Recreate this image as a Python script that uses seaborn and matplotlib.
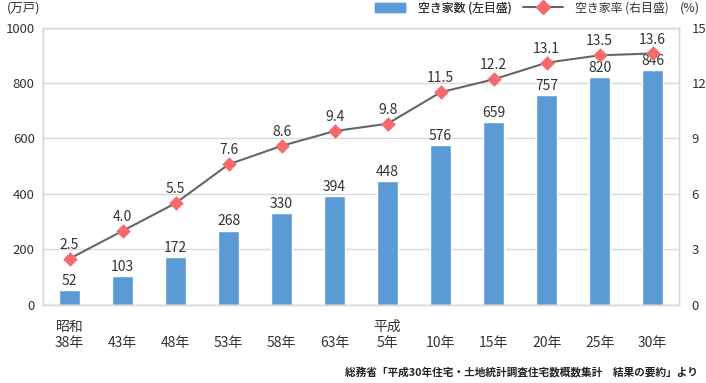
import matplotlib
matplotlib.use("Agg")
import matplotlib.pyplot as plt
import seaborn as sns
import numpy as np
import pandas as pd
from matplotlib.patches import Patch
from matplotlib.lines import Line2D

categories = ["昭和\n38年", "\n43年", "\n48年", "\n53年", "\n58年", "\n63年",
              "平成\n5年", "\n10年", "\n15年", "\n20年", "\n25年", "\n30年"]
vacant_counts = [52, 103, 172, 268, 330, 394, 448, 576, 659, 757, 820, 846]
vacant_rates = [2.5, 4.0, 5.5, 7.6, 8.6, 9.4, 9.8, 11.5, 12.2, 13.1, 13.5, 13.6]
left_ticks = [0, 200, 400, 600, 800, 1000]
right_ticks = [0, 3, 6, 9, 12, 15]

sns.set_theme(style="white")
plt.rcParams['font.family'] = ['Noto Sans CJK JP', 'DejaVu Sans']

TXT = "#333333"
GRID = "#D9D9D9"
BAR = "#5B9BD5"
LINE = "#666666"
MARK = "#F8696B"

df = pd.DataFrame({"cat": categories, "count": vacant_counts, "rate": vacant_rates,
                   "pos": np.arange(len(categories))})

fig = plt.figure(figsize=(7.06, 3.83), dpi=100)
ax = fig.add_axes([0.061, 0.204, 0.901, 0.724])

sns.barplot(data=df, x="cat", y="count", color=BAR, width=0.4, ax=ax,
            saturation=1, zorder=2)
ax.set_ylim(0, 1000)
ax.set_xlim(-0.5, len(categories) - 0.5)
ax.set_yticks(left_ticks)
ax.set_yticklabels([str(t) for t in left_ticks])
ax.yaxis.grid(True, color=GRID, linewidth=1)
ax.set_axisbelow(True)
ax.set_xlabel("")
ax.set_ylabel("")
ax.tick_params(axis="x", length=0, labelsize=10, colors=TXT, pad=11)
ax.tick_params(axis="y", length=0, labelsize=9.5, colors=TXT, pad=6)
for lab in ax.get_xticklabels():
    lab.set_linespacing(1.15)
for s in ax.spines.values():
    s.set_color(GRID)
    s.set_linewidth(1)

for p, v in zip(ax.patches, vacant_counts):
    ax.annotate(str(v), (p.get_x() + p.get_width() / 2, p.get_height()),
                xytext=(0, 1.5), textcoords="offset points", ha="center", va="bottom",
                fontsize=10, color=TXT)

ax2 = ax.twinx()
sns.lineplot(data=df, x="pos", y="rate", color=LINE, linewidth=1.5, ax=ax2, zorder=3)
sns.scatterplot(data=df, x="pos", y="rate", marker="D", s=55, color=MARK,
                edgecolor=MARK, linewidth=0, ax=ax2, zorder=4)
ax2.set_ylim(0, 15)
ax2.set_yticks(right_ticks)
ax2.set_yticklabels([str(t) for t in right_ticks])
ax2.set_xlabel("")
ax2.set_ylabel("")
ax2.tick_params(axis="y", length=0, labelsize=9.5, colors=TXT, pad=9)
for s in ax2.spines.values():
    s.set_color(GRID)
    s.set_linewidth(1)
for x, v in zip(df["pos"], vacant_rates):
    ax2.annotate(f"{v:.1f}", (x, v), xytext=(0, 5), textcoords="offset points",
                 ha="center", va="bottom", fontsize=10, color=TXT)

fig.text(0.010, 0.978, "(万戸)", fontsize=9, color=TXT, ha="left", va="center")
fig.text(0.992, 0.978, "(%)", fontsize=9, color=TXT, ha="right", va="center")

leg1 = fig.legend([Patch(facecolor=BAR, edgecolor=BAR)], ["空き家数 (左目盛)"],
                  loc="center left", bbox_to_anchor=(0.531, 0.979), frameon=False,
                  fontsize=8.6, labelcolor=TXT, handlelength=2.5, handleheight=0.85,
                  handletextpad=1.1, borderpad=0, borderaxespad=0)
fig.legend([Line2D([0], [0], color=LINE, lw=1.5, marker="D", markersize=7,
                   markerfacecolor=MARK, markeredgecolor=MARK)],
           ["空き家率 (右目盛)"],
           loc="center left", bbox_to_anchor=(0.741, 0.979), frameon=False,
           fontsize=8.6, labelcolor=TXT, handlelength=3.3,
           handletextpad=1.0, borderpad=0, borderaxespad=0)
fig.add_artist(leg1)

fig.text(0.989, 0.029, "総務省「平成30年住宅・土地統計調査住宅数概数集計　結果の要約」より",
         fontsize=7.7, color="#222222", ha="right", va="center", fontweight="bold")

fig.savefig("out.png", dpi=100)
